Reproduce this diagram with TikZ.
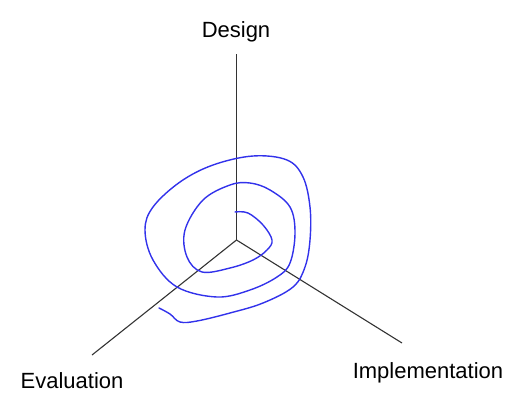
\documentclass[tikz,border=0pt]{standalone}
\usepackage{fontspec}
\setmainfont{Liberation Sans}
\begin{document}
\begin{tikzpicture}[x=1pt,y=-1pt,
  axis/.style={draw=black!80,line width=1.1pt},
  spiral/.style={draw={rgb,255:red,50;green,50;blue,235},line width=1.4pt,line cap=round},
  lbl/.style={font=\fontsize{22}{25}\selectfont,anchor=base,inner sep=0pt}]
\useasboundingbox (0,0) rectangle (527,407);
\coordinate (O) at (236.5,240);
\coordinate (D) at (236.5,54);
\coordinate (E) at (92,355);
\coordinate (I) at (402,343);
\draw[axis] (O) -- (D);
\draw[axis] (O) -- (E);
\draw[axis] (O) -- (I);
\node[lbl] (dl) at (236,37) {Design};
\node[lbl] (el) at (72,388) {Evaluation};
\node[lbl] (il) at (428,378) {Implementation};
\draw[spiral] plot[smooth,tension=0.6] coordinates {
 (235,212) (248,213) (263,225) (272,240) (267,250) (253,260) (230,268)
 (202,272) (187,257) (185,230) (203,200) (230,185) (250,183) (270,190)
 (290,207) (295,233) (290,263) (277,277) (250,290) (217,297) (177,287)
 (153,260) (145,230) (153,207) (180,182) (213,165) (253,156) (287,160)
 (303,177) (310,207) (310,240) (305,267) (293,287) (263,303) (230,313)
 (197,321) (180,322) (170,314) (159,308)};
\end{tikzpicture}
\end{document}
